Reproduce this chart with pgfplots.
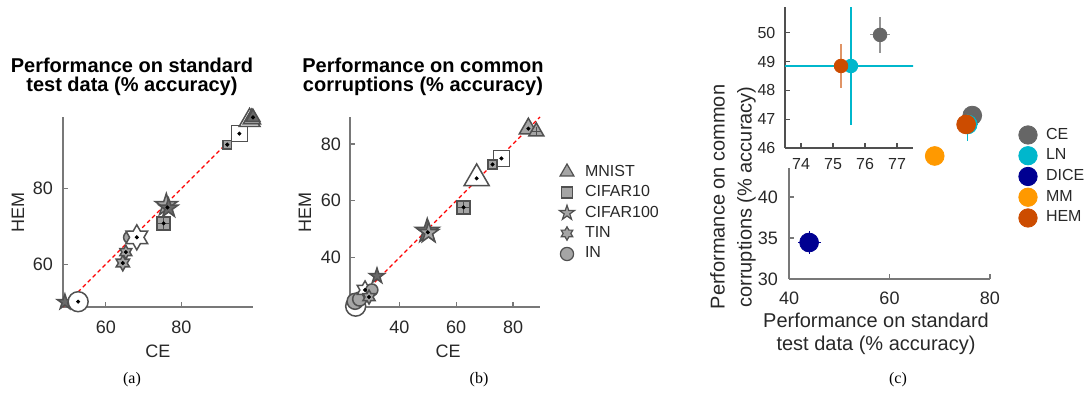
\documentclass[border=0pt]{standalone}
\usepackage{fontspec}
\setmainfont{Liberation Sans}
\newfontfamily\capfont{Liberation Serif}
\usepackage{pgfplots}
\pgfplotsset{compat=1.18}

\definecolor{axgray}{RGB}{120,120,120}
\definecolor{axdark}{RGB}{80,80,80}
\definecolor{txt}{RGB}{40,40,40}
\definecolor{mkedge}{RGB}{80,80,80}
\definecolor{mkfill}{RGB}{165,165,165}
\definecolor{mkdark}{RGB}{105,105,105}
\definecolor{ceC}{RGB}{102,102,102}
\definecolor{lnC}{RGB}{0,183,204}
\definecolor{diceC}{RGB}{0,0,145}
\definecolor{mmC}{RGB}{255,153,0}
\definecolor{hemC}{RGB}{204,76,0}

\pgfdeclareplotmark{pent}{%
 \pgfpathmoveto{\pgfpointpolar{90}{\pgfplotmarksize}}%
 \pgfpathlineto{\pgfpointpolar{126}{0.382*\pgfplotmarksize}}%
 \pgfpathlineto{\pgfpointpolar{162}{\pgfplotmarksize}}%
 \pgfpathlineto{\pgfpointpolar{198}{0.382*\pgfplotmarksize}}%
 \pgfpathlineto{\pgfpointpolar{234}{\pgfplotmarksize}}%
 \pgfpathlineto{\pgfpointpolar{270}{0.382*\pgfplotmarksize}}%
 \pgfpathlineto{\pgfpointpolar{306}{\pgfplotmarksize}}%
 \pgfpathlineto{\pgfpointpolar{342}{0.382*\pgfplotmarksize}}%
 \pgfpathlineto{\pgfpointpolar{18}{\pgfplotmarksize}}%
 \pgfpathlineto{\pgfpointpolar{54}{0.382*\pgfplotmarksize}}%
 \pgfpathclose
 \pgfusepathqfillstroke
}
\pgfdeclareplotmark{hexa}{%
 \pgfpathmoveto{\pgfpointpolar{90}{\pgfplotmarksize}}%
 \pgfpathlineto{\pgfpointpolar{120}{0.577*\pgfplotmarksize}}%
 \pgfpathlineto{\pgfpointpolar{150}{\pgfplotmarksize}}%
 \pgfpathlineto{\pgfpointpolar{180}{0.577*\pgfplotmarksize}}%
 \pgfpathlineto{\pgfpointpolar{210}{\pgfplotmarksize}}%
 \pgfpathlineto{\pgfpointpolar{240}{0.577*\pgfplotmarksize}}%
 \pgfpathlineto{\pgfpointpolar{270}{\pgfplotmarksize}}%
 \pgfpathlineto{\pgfpointpolar{300}{0.577*\pgfplotmarksize}}%
 \pgfpathlineto{\pgfpointpolar{330}{\pgfplotmarksize}}%
 \pgfpathlineto{\pgfpointpolar{0}{0.577*\pgfplotmarksize}}%
 \pgfpathlineto{\pgfpointpolar{30}{\pgfplotmarksize}}%
 \pgfpathlineto{\pgfpointpolar{60}{0.577*\pgfplotmarksize}}%
 \pgfpathclose
 \pgfusepathqfillstroke
}

\pgfplotsset{
  base/.style={scale only axis, anchor=south west, axis lines*=left,
    axis line style={axgray, line width=0.6pt, -},
    tick style={axgray, line width=0.6pt},
    tick align=inside, major tick length=2.5pt,
    ticklabel style={font=\fontsize{9}{10}\selectfont, text=txt},
    /pgf/number format/assume math mode=true,
    label style={font=\fontsize{9}{10}\selectfont, text=txt},
    clip=false},
  mk/.style n args={3}{only marks, forget plot, mark=#1, mark size=#2,
    mark options={solid, fill=#3, draw=mkedge, line width=0.75pt}},
  cross/.style={only marks, forget plot, mark=+, mark size=#1,
    mark options={solid, draw=mkedge, line width=0.5pt}},
  dots/.style={only marks, forget plot, mark=*, mark size=0.8pt, mark options={black, fill=black}},
  diag/.style={forget plot, red, dash pattern=on 2pt off 1.5pt, line width=0.55pt},
  eb/.style n args={3}{only marks, forget plot, mark=*, mark size=#2, color=#1,
    error bars/.cd, x dir=both, x explicit, y dir=both, y explicit, error mark=none,
    error bar style={#3, solid, line width=0.6pt}},
  lgab/.style={legend image code/.code={\path[draw=none, fill=none] (-5pt,-5.125pt) rectangle (5pt,5.125pt);
      \draw[##1] plot coordinates {(0pt,0pt)};}},
  lgc/.style={legend image code/.code={\path[draw=none, fill=none] (-5pt,-5.1875pt) rectangle (5pt,5.1875pt);
      \draw[##1] plot coordinates {(0pt,0pt)};}},
}

\begin{document}
\begin{tikzpicture}
\path[use as bounding box] (0,0) rectangle (543pt,197pt);

% ---------------- panel (a)
\begin{axis}[base, at={(31.5pt,43.5pt)}, width=95pt, height=95pt,
  xmin=48.7, xmax=98.9, ymin=48.7, ymax=98.9,
  xtick={60,80}, ytick={60,80},
  xticklabel style={yshift=-3.5pt}, yticklabel style={xshift=-1.5pt},
  xlabel={CE}, ylabel={HEM},
  xlabel style={at={(axis description cs:0.5,-0.232)}, anchor=center},
  ylabel style={at={(axis description cs:-0.237,0.495)}, anchor=center},
  title={Performance on standard\\test data (\% accuracy)},
  title style={at={(axis description cs:0.363,1.147)}, anchor=center, align=center,
    font=\bfseries\fontsize{10}{9.75}\selectfont, text=black}]
\addplot[mk={pent}{4pt}{mkdark}] coordinates {(49.2,50.0)};
\addplot[mk={*}{5pt}{white}] coordinates {(52.7,50.1)};
\addplot[mk={*}{3pt}{mkfill}] coordinates {(66.3,67.1)};
\addplot[mk={hexa}{3.85pt}{mkfill}] coordinates {(64.5,60.3)};
\addplot[mk={hexa}{3.4pt}{mkfill}] coordinates {(65.3,63.2)};
\addplot[mk={hexa}{6.25pt}{white}] coordinates {(68.2,67.1)};
\addplot[mk={square*}{3.25pt}{mkfill}] coordinates {(75.3,70.8)};
\addplot[cross=2.6pt] coordinates {(75.3,70.8)};
\addplot[mk={pent}{5.8pt}{mkfill}] coordinates {(76.0,75.6)};
\addplot[mk={pent}{5pt}{mkdark}] coordinates {(76.6,74.8)};
\addplot[mk={square*}{2.15pt}{mkfill}] coordinates {(92.1,91.6)};
\addplot[mk={square*}{4pt}{white}] coordinates {(95.3,94.5)};
\addplot[mk={triangle*}{6pt}{white}] coordinates {(98.0,98.0)};
\addplot[mk={triangle*}{5pt}{mkfill}] coordinates {(98.6,98.4)};
\addplot[mk={triangle*}{4pt}{mkdark}] coordinates {(98.9,98.8)};
\addplot[diag] coordinates {(48.7,48.7) (98.9,98.9)};
\addplot[dots] coordinates {(52.7,50.1) (64.5,60.3) (65.3,63.2) (68.2,67.1) (75.3,70.8)
  (76.3,75.0) (92.1,91.6) (95.3,94.5) (98.9,98.8)};
\end{axis}

% ---------------- panel (b)
\begin{axis}[base, lgab, at={(175pt,43.5pt)}, width=95pt, height=95pt,
  xmin=22.6, xmax=89.5, ymin=22.6, ymax=89.5,
  xtick={40,60,80}, ytick={40,60,80},
  xticklabel style={yshift=-3.5pt}, yticklabel style={xshift=-1pt},
  xlabel={CE}, ylabel={HEM},
  xlabel style={at={(axis description cs:0.516,-0.232)}, anchor=center},
  ylabel style={at={(axis description cs:-0.237,0.495)}, anchor=center},
  title={Performance on common\\corruptions (\% accuracy)},
  title style={at={(axis description cs:0.384,1.147)}, anchor=center, align=center,
    font=\bfseries\fontsize{10}{9.75}\selectfont, text=black},
  legend cell align=left,
  legend style={at={(axis description cs:1.0895,0.7645)}, anchor=north west,
    draw=none, fill=none, inner sep=0pt, outer sep=0pt, row sep=0pt, column sep=4pt,
    font=\fontsize{8}{9.6}\selectfont, text=txt, nodes={inner sep=0pt, outer sep=0pt}}]
\addlegendimage{mark=triangle*, mark size=4pt, mark options={solid, fill=mkfill, draw=mkedge, line width=0.6pt}}
\addlegendentry{MNIST}
\addlegendimage{mark=square*, mark size=2.75pt, mark options={solid, fill=mkfill, draw=mkedge, line width=0.6pt}}
\addlegendentry{CIFAR10}
\addlegendimage{mark=pent, mark size=3.9pt, mark options={solid, fill=mkfill, draw=mkedge, line width=0.6pt}}
\addlegendentry{CIFAR100}
\addlegendimage{mark=hexa, mark size=3.35pt, mark options={solid, fill=mkfill, draw=mkedge, line width=0.6pt}}
\addlegendentry{TIN}
\addlegendimage{mark=*, mark size=3.3pt, mark options={solid, fill=mkfill, draw=mkedge, line width=0.6pt}}
\addlegendentry{IN}
\addplot[mk={triangle*}{5.2pt}{mkfill}] coordinates {(85.4,85.4)};
\addplot[mk={triangle*}{4.3pt}{mkfill}] coordinates {(88.2,84.4)};
\addplot[cross=2.4pt] coordinates {(88.2,84.4)};
\addplot[mk={square*}{4pt}{white}] coordinates {(75.9,74.9)};
\addplot[mk={square*}{2.25pt}{mkfill}] coordinates {(72.8,72.8)};
\addplot[mk={triangle*}{7.2pt}{white}] coordinates {(67.2,67.9)};
\addplot[mk={square*}{3.25pt}{mkfill}] coordinates {(62.6,57.7)};
\addplot[cross=2.6pt] coordinates {(62.6,57.7)};
\addplot[mk={pent}{6.3pt}{mkdark}] coordinates {(49.8,49.3)};
\addplot[mk={pent}{5.3pt}{mkfill}] coordinates {(50.3,48.7)};
\addplot[mk={pent}{4pt}{mkdark}] coordinates {(32.1,33.5)};
\addplot[mk={*}{5pt}{white}] coordinates {(24.6,22.9)};
\addplot[mk={*}{4pt}{mkfill}] coordinates {(24.4,24.6)};
\addplot[mk={*}{3.5pt}{mkfill}] coordinates {(26.0,25.4)};
\addplot[mk={hexa}{4.5pt}{white}] coordinates {(27.9,28.6)};
\addplot[mk={*}{3pt}{mkfill}] coordinates {(30.3,28.6)};
\addplot[mk={hexa}{3.5pt}{mkfill}] coordinates {(29.3,26.1)};
\addplot[diag] coordinates {(22.6,22.6) (89.5,89.5)};
\addplot[dots] coordinates {(85.4,85.4) (75.9,74.9) (72.8,72.8) (67.2,67.9) (62.6,57.7)
  (50.0,48.9) (27.9,28.6) (29.3,26.1)};
\end{axis}

% ---------------- panel (c) main
\begin{axis}[base, lgc, at={(394.5pt,57.5pt)}, width=100.5pt, height=82pt,
  xmin=40, xmax=80, ymin=30, ymax=50,
  xtick={40,60,80}, ytick={30,35,40},
  xticklabel style={yshift=-2.75pt}, yticklabel style={xshift=-2pt},
  xlabel={Performance on standard\\test data (\% accuracy)},
  ylabel={Performance on common\\corruptions (\% accuracy)},
  xlabel style={at={(axis description cs:0.433,-0.332)}, anchor=center, align=center,
    font=\fontsize{10}{11.5}\selectfont},
  ylabel style={at={(axis description cs:-0.279,0.5)}, anchor=center, align=center,
    font=\fontsize{10}{13.5}\selectfont},
  legend cell align=left,
  legend style={at={(axis description cs:1.1393,0.9413)}, anchor=north west,
    draw=none, fill=none, inner sep=0pt, outer sep=0pt, row sep=0pt, column sep=4pt,
    font=\fontsize{8}{9.6}\selectfont, text=txt, nodes={inner sep=0pt, outer sep=0pt}}]
\addlegendimage{mark=*, mark size=4.6pt, color=ceC}\addlegendentry{CE}
\addlegendimage{mark=*, mark size=4.6pt, color=lnC}\addlegendentry{LN}
\addlegendimage{mark=*, mark size=4.6pt, color=diceC}\addlegendentry{DICE}
\addlegendimage{mark=*, mark size=4.6pt, color=mmC}\addlegendentry{MM}
\addlegendimage{mark=*, mark size=4.6pt, color=hemC}\addlegendentry{HEM}
\addplot[eb={ceC}{4.7pt}{ceC!70!white}] coordinates {(76.47,49.93) +- (0.3,0.63)};
\addplot[eb={lnC}{4.7pt}{lnC}] coordinates {(75.56,48.85) +- (2.1,2.05)};
\addplot[eb={diceC}{4.7pt}{diceC}] coordinates {(44.0,34.45) +- (2.3,1.35)};
\addplot[eb={mmC}{4.7pt}{mmC}] coordinates {(69.0,45.0) +- (0.2,0.2)};
\addplot[eb={hemC}{4.7pt}{hemC!60!white}] coordinates {(75.25,48.85) +- (0.2,0.77)};
\end{axis}

\fill[white] (390pt,113pt) rectangle (457.5pt,197pt);

% ---------------- panel (c) inset
\begin{axis}[base, clip=true, at={(392.5pt,123pt)}, width=64pt, height=70.5pt,
  xmin=73.5, xmax=77.5, ymin=46, ymax=50.9,
  xtick={74,75,76,77}, ytick={46,47,48,49,50},
  axis line style={axdark}, tick style={axdark},
  ticklabel style={font=\fontsize{8}{9}\selectfont},
  xticklabel style={yshift=-1.5pt}, yticklabel style={xshift=-1.3pt}]
\addplot[eb={ceC}{3.4pt}{ceC!70!white}] coordinates {(76.47,49.93) +- (0.3,0.63)};
\addplot[eb={lnC}{3.4pt}{lnC}] coordinates {(75.56,48.85) +- (2.1,2.05)};
\addplot[eb={diceC}{3.4pt}{diceC}] coordinates {(44.0,34.45) +- (2.3,1.35)};
\addplot[eb={mmC}{3.4pt}{mmC}] coordinates {(69.0,45.0) +- (0.2,0.2)};
\addplot[eb={hemC}{3.4pt}{hemC!60!white}] coordinates {(75.25,48.85) +- (0.2,0.77)};
\end{axis}

% captions
\node[font=\capfont\fontsize{8}{9}\selectfont] at (66pt,7pt) {(a)};
\node[font=\capfont\fontsize{8}{9}\selectfont] at (239.5pt,7pt) {(b)};
\node[font=\capfont\fontsize{8}{9}\selectfont] at (449pt,7pt) {(c)};
\end{tikzpicture}
\end{document}
